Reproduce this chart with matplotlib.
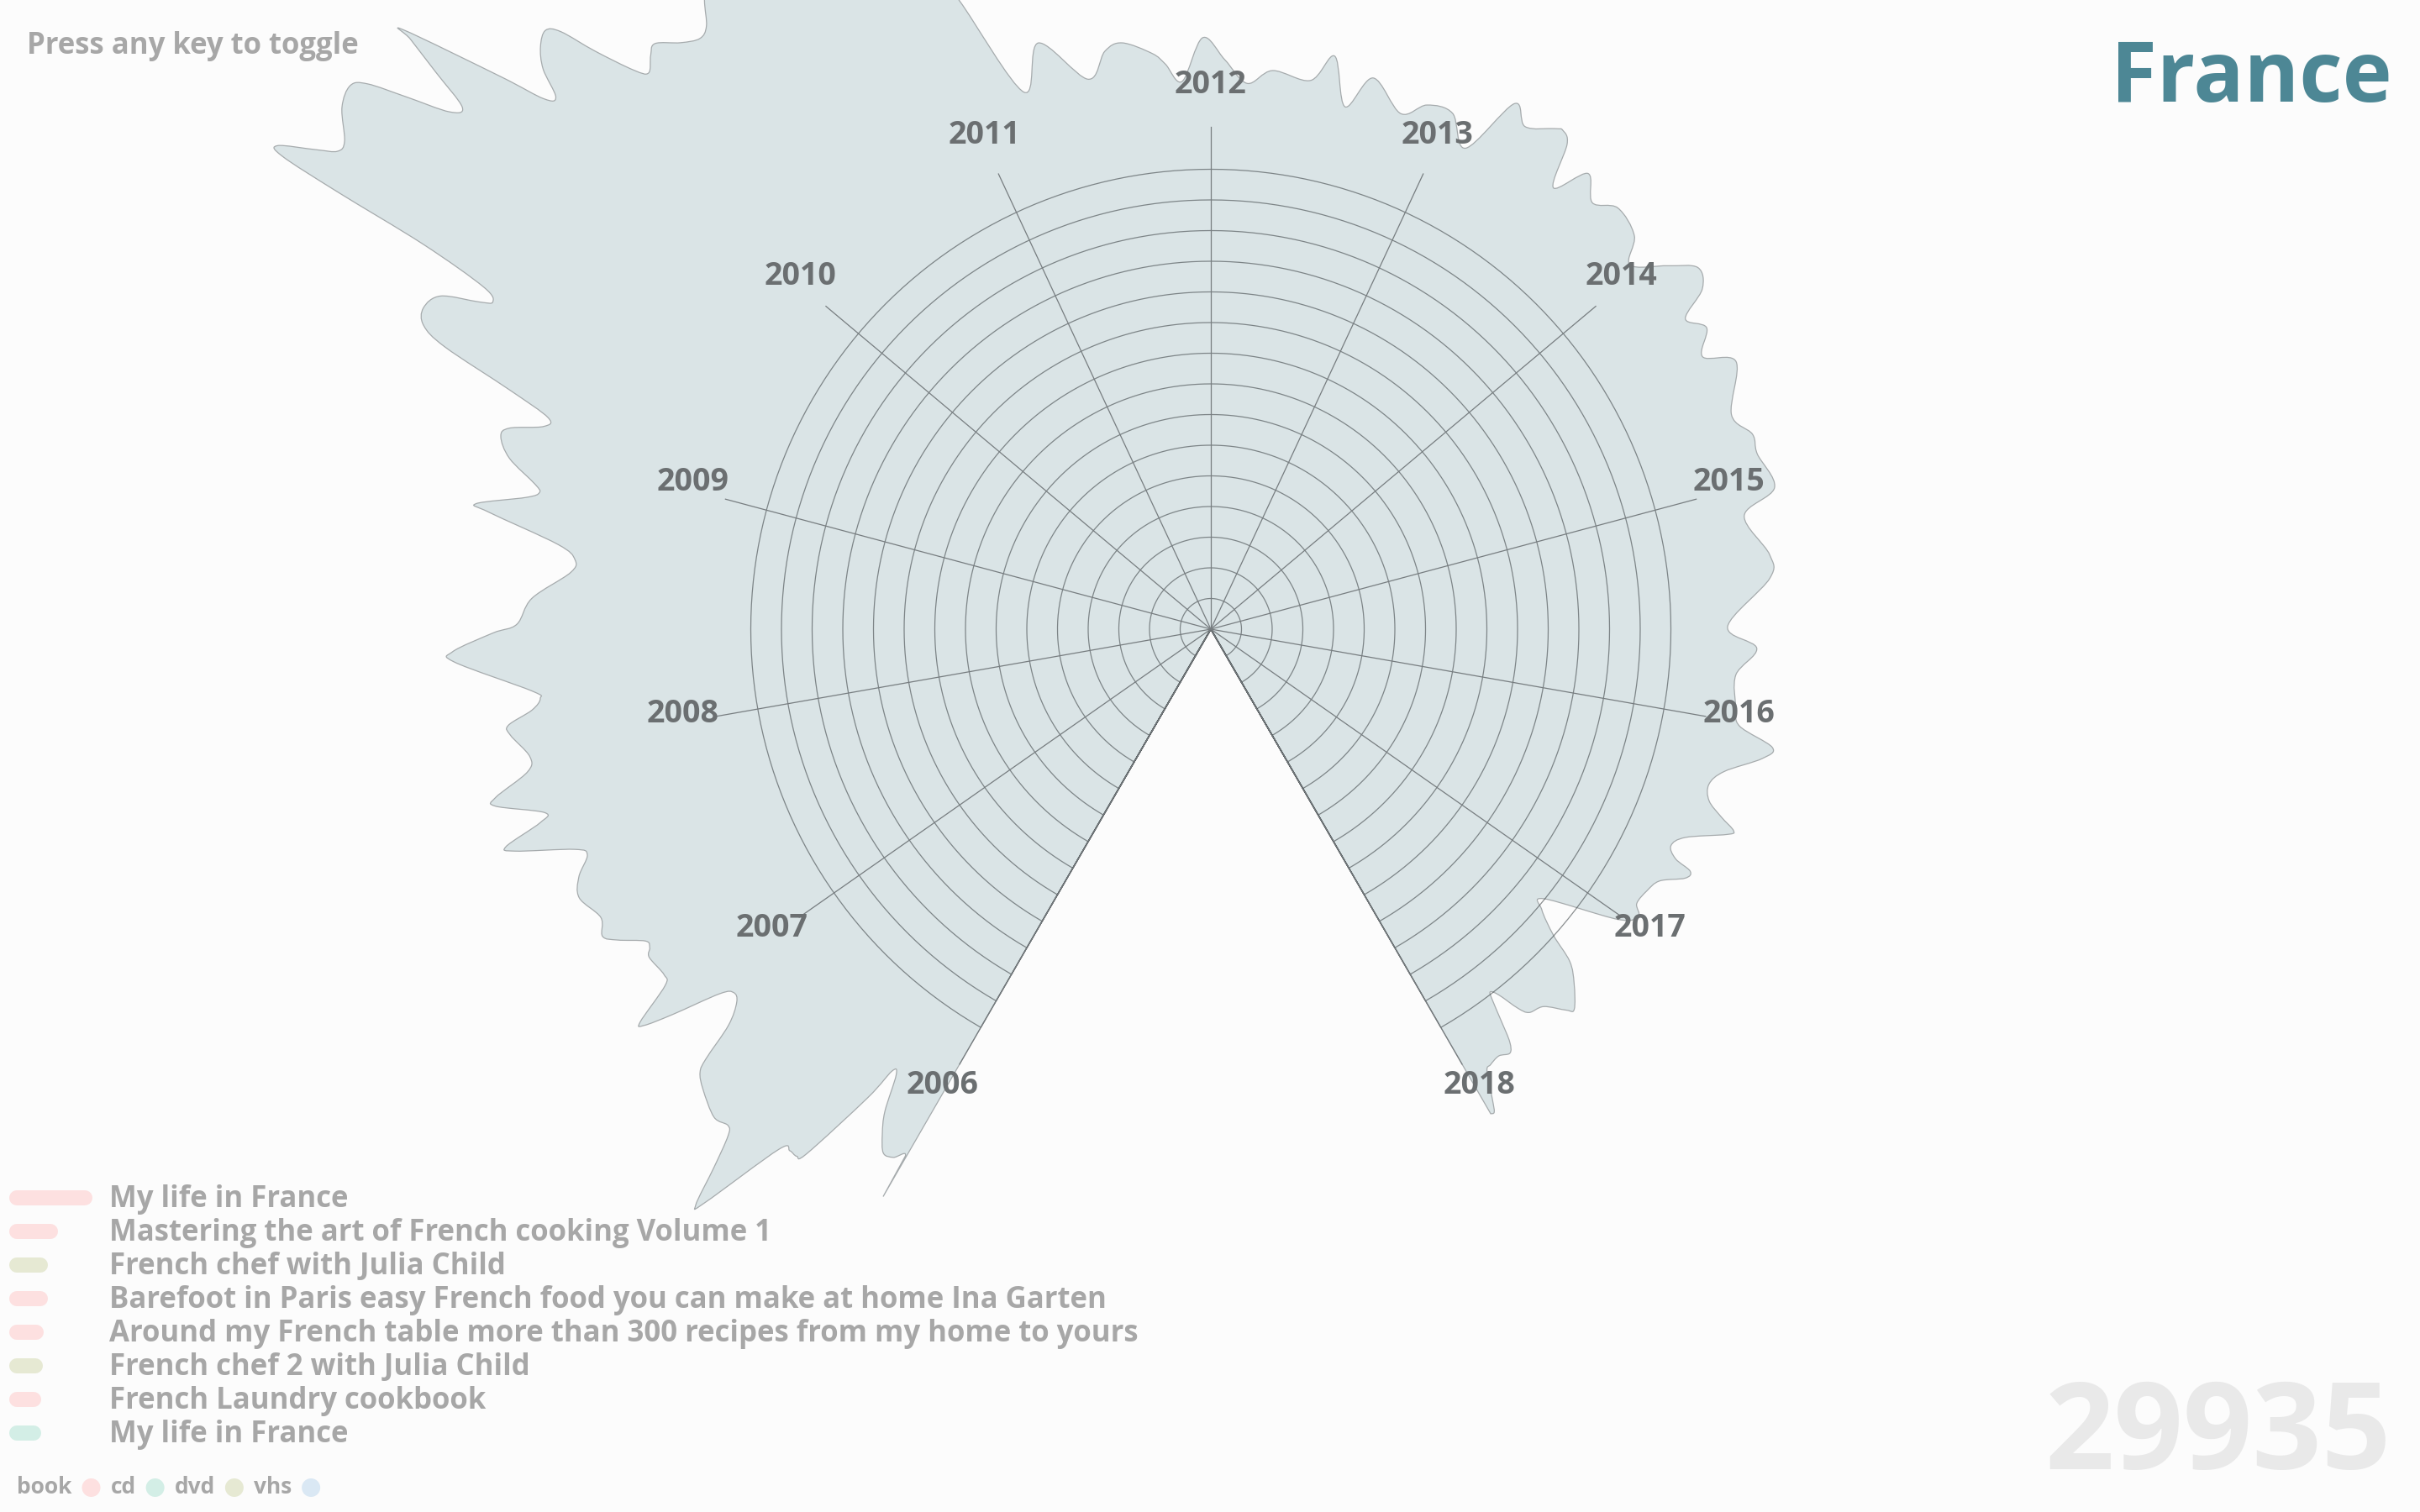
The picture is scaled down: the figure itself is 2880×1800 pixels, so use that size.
import numpy as np
import matplotlib
matplotlib.use("Agg")
import matplotlib.pyplot as plt
from matplotlib.path import Path
from matplotlib.patches import PathPatch

plt.rcParams['font.family'] = ['Open Sans', 'DejaVu Sans']

# ===== Data =====
country = "France"
total_loans = 29935
years = list(range(2006, 2019))

# outline of the loan shape: angle in degrees (clockwise from top), value in ring units
outline_deg = [
    -150.0, -149.9, -149.0, -148.0, -146.95, -145.95, -144.8, -144.2, -143.8, -142.4,
    -141.85, -141.1, -140.3, -138.6, -138.2, -137.3, -136.4, -135.8, -134.5, -132.2,
    -130.95, -130.4, -129.4, -128.2, -127.3, -126.6, -125.6, -124.97, -124.55, -123.15,
    -122.3, -120.3, -119.6, -118.9, -117.66, -116.8, -115.3, -113.05, -111.4, -109.9,
    -109.1, -107.7, -107.15, -106.1, -105.4, -103.9, -103.25, -101.8, -100.6, -98.6,
    -97.8, -96.8, -95.9, -95.2, -92.5, -91.7, -90.3, -89.6, -87.4, -84.95,
    -83.74, -82.6, -80.8, -80.3, -79.1, -78.5, -77.9, -76.3, -74.8, -74.0,
    -73.1, -72.3, -71.15, -69.77, -68.9, -67.8, -66.6, -65.9, -65.5, -64.8,
    -63.95, -63.4, -63.0, -62.6, -61.8, -61.3, -60.6, -59.0, -57.7, -57.1,
    -56.5, -55.8, -55.1, -54.3, -53.6, -53.4, -52.1, -51.5, -50.9, -50.0,
    -49.0, -48.0, -47.4, -46.8, -45.9, -45.3, -44.3, -43.5, -42.1, -40.85,
    -39.9, -38.8, -37.0, -34.0, -30.0, -26.0, -23.0, -21.8, -19.2, -16.4,
    -12.6, -10.4, -8.6, -5.8, -4.6, -3.0, -0.8, 1.4, 3.8, 6.3,
    10.3, 12.2, 14.4, 16.4, 20.2, 22.4, 25.1, 27.9, 30.0, 32.0,
    34.5, 35.2, 36.3, 37.8, 39.6, 41.8, 44.0, 47.1, 49.0, 51.5,
    53.4, 55.3, 56.8, 58.7, 61.0, 63.0, 67.6, 70.2, 72.2, 75.9,
    78.0, 82.4, 84.8, 89.7, 92.0, 95.0, 98.6, 100.4, 101.9, 103.2,
    105.5, 107.3, 109.0, 110.2, 111.1, 111.7, 113.7, 115.2, 116.3, 116.8,
    117.7, 119.3, 121.0, 122.8, 123.9, 125.5, 129.0, 130.3, 131.8, 132.8,
    134.3, 136.3, 137.0, 138.6, 140.3, 141.0, 141.8, 142.4, 142.8, 143.5,
    144.1, 144.8, 146.0, 147.3, 148.0, 149.1, 149.6, 150.0,
]
outline_val = [
    21.37, 19.86, 20.10, 20.15, 19.64, 18.98, 17.80, 17.77, 18.93, 21.59,
    21.86, 21.86, 22.05, 24.92, 25.20, 23.89, 22.83, 22.58, 22.71, 22.35,
    22.05, 21.61, 20.35, 19.67, 19.56, 19.94, 21.60, 22.55, 22.59, 21.25,
    21.09, 21.21, 21.04, 21.05, 21.84, 22.22, 22.00, 22.38, 22.13, 21.62,
    21.95, 23.81, 24.05, 22.76, 22.53, 24.03, 23.96, 22.76, 22.59, 23.10,
    23.12, 22.29, 21.98, 22.23, 24.68, 24.73, 23.40, 22.63, 22.16, 20.96,
    20.86, 21.47, 23.84, 24.30, 22.73, 22.34, 22.53, 23.54, 23.99, 23.79,
    22.74, 22.68, 24.17, 26.61, 27.51, 27.73, 27.36, 26.14, 25.73, 26.20,
    28.58, 31.82, 33.98, 34.27, 33.09, 32.46, 32.42, 33.05, 33.19, 32.74,
    31.45, 30.02, 29.76, 31.10, 32.42, 32.78, 29.33, 27.79, 27.52, 28.42,
    28.96, 29.19, 28.79, 27.54, 26.20, 25.79, 26.15, 26.33, 25.78, 25.47,
    25.64, 26.35, 27.40, 28.50, 27.90, 26.00, 23.60, 22.08, 18.55, 19.93,
    18.38, 19.16, 19.34, 18.87, 18.49, 17.89, 19.29, 18.58, 17.84, 18.33,
    18.19, 19.12, 17.59, 18.74, 17.92, 18.49, 18.58, 17.75, 19.79, 19.33,
    19.81, 19.91, 19.62, 18.22, 19.29, 18.66, 19.10, 18.85, 18.11, 19.04,
    19.78, 19.49, 18.49, 18.92, 18.33, 19.22, 18.36, 18.77, 18.71, 18.95,
    17.78, 18.38, 18.30, 16.85, 17.81, 17.18, 17.32, 17.53, 18.71, 18.47,
    17.37, 17.01, 17.18, 17.73, 18.27, 18.11, 16.90, 16.58, 16.90, 17.51,
    17.47, 16.78, 16.58, 16.52, 16.79, 16.30, 13.97, 14.15, 14.99, 15.95,
    16.55, 17.15, 16.99, 16.41, 16.25, 15.91, 15.18, 14.93, 15.18, 15.95,
    16.62, 16.92, 16.79, 16.88, 16.99, 17.88, 18.26, 18.25,
]

n_rings = 15

titles = [
    "My life in France",
    "Mastering the art of French cooking Volume 1",
    "French chef with Julia Child",
    "Barefoot in Paris easy French food you can make at home Ina Garten",
    "Around my French table more than 300 recipes from my home to yours",
    "French chef 2 with Julia Child",
    "French Laundry cookbook",
    "My life in France",
]
title_media = ["book", "book", "dvd", "book", "book", "dvd", "book", "cd"]
title_loans = [81, 40, 28, 28, 23, 22, 20, 20]

media = ["book", "cd", "dvd", "vhs"]
media_colors = {"book": "#fde0e0", "cd": "#d3eee6", "dvd": "#e6e9d3", "vhs": "#dae8f4"}


def smooth_outline(deg, val, start_deg=-150.0):
    """Closed path (theta, r): centre -> outline as a smooth curve -> centre."""
    t = np.radians(deg)
    r = np.asarray(val, dtype=float)
    P = np.column_stack([r * np.sin(t), r * np.cos(t)])
    n = len(P)

    def to_polar(p):
        return (np.arctan2(p[0], p[1]), np.hypot(p[0], p[1]))

    verts = [(np.radians(start_deg), 0.0), to_polar(P[0]), to_polar(P[1])]
    codes = [Path.MOVETO, Path.LINETO, Path.LINETO]
    for i in range(1, n - 1):
        p0 = P[i - 1]
        p1 = P[i]
        p2 = P[i + 1]
        p3 = P[min(i + 2, n - 1)]
        c1 = p1 + (p2 - p0) / 6.0
        c2 = p2 - (p3 - p1) / 6.0
        verts += [to_polar(c1), to_polar(c2), to_polar(p2)]
        codes += [Path.CURVE4] * 3
    verts += [(t[-1], 0.0), (t[-1], 0.0)]
    codes += [Path.LINETO, Path.CLOSEPOLY]
    return Path(verts, codes)


# ===== Layout =====
W, H = 2880, 1800
cx, cy = 1441, 749          # centre of the radial chart (px, from top)
PX = 36.5                   # px per ring
rmax = 36

fig = plt.figure(figsize=(W / 100, H / 100), dpi=100)
fig.patch.set_facecolor("#fcfcfc")

R = rmax * PX
ax = fig.add_axes([(cx - R) / W, (H - cy - R) / H, 2 * R / W, 2 * R / H], projection="polar")
ax.set_theta_zero_location("N")
ax.set_theta_direction(-1)
ax.set_ylim(0, rmax)
ax.axis("off")

# shape
shape = PathPatch(smooth_outline(outline_deg, outline_val), transform=ax.transData,
                  facecolor="#dae4e6", edgecolor="#a6abad", lw=0.9, zorder=1, clip_on=False)
ax.add_patch(shape)

# rings (drawn as wedges, the edges overlap)
year_angles = np.linspace(-150, 150, len(years))
arc = np.radians(np.linspace(-150, 150, 401))
for k in range(1, n_rings + 1):
    ax.plot(np.r_[arc[0], arc, arc[-1]], np.r_[0, np.full(arc.size, k), 0],
            color="#3f4548", alpha=0.6, lw=0.9, zorder=2)

# spokes + year labels
for yr, a in zip(years, year_angles):
    ax.plot([np.radians(a)] * 2, [0, 598 / PX], color="#777d80", lw=0.9, zorder=2)
    ax.text(np.radians(a), 638 / PX, str(yr), ha="center", va="baseline",
            fontsize=27, fontweight="bold", color="#6b6f71", zorder=3)

# ===== Texts =====
grey = "#a7a7a7"
fig.text(2847 / W, 1 - 120.5 / H, country, ha="right", va="baseline",
         fontsize=72, fontweight="bold", color="#4d8795")
fig.text(32 / W, 1 - 64 / H, "Press any key to toggle", ha="left", va="baseline",
         fontsize=25, fontweight="bold", color=grey)
fig.text(2846 / W, 1 - 1749 / H, str(total_loans), ha="right", va="baseline",
         fontsize=104, fontweight="bold", color="#e9e9e9")

# overlay axes in pixel units for the legend
ov = fig.add_axes([0, 0, 1, 1])
ov.set_xlim(0, W)
ov.set_ylim(H, 0)
ov.axis("off")

for i, (t, m, n) in enumerate(zip(titles, title_media, title_loans)):
    base = 1437 + 40 * i
    ov.plot([20, 20 + n], [base - 11, base - 11], color=media_colors[m],
            lw=18 * 0.72, solid_capstyle="round")
    ov.text(130, base, t, ha="left", va="baseline", fontsize=25,
            fontweight="bold", color=grey)

# media key
renderer = fig.canvas.get_renderer()
x = 20
for m in media:
    t = ov.text(x, 1778, m, ha="left", va="baseline", fontsize=19,
                fontweight="bold", color=grey)
    bb = t.get_window_extent(renderer)
    dot_x = bb.x1 + 23
    ov.add_patch(plt.Circle((dot_x, 1771), 11, color=media_colors[m], lw=0))
    x = dot_x + 23

fig.savefig("out.png", dpi=100, facecolor=fig.get_facecolor())
